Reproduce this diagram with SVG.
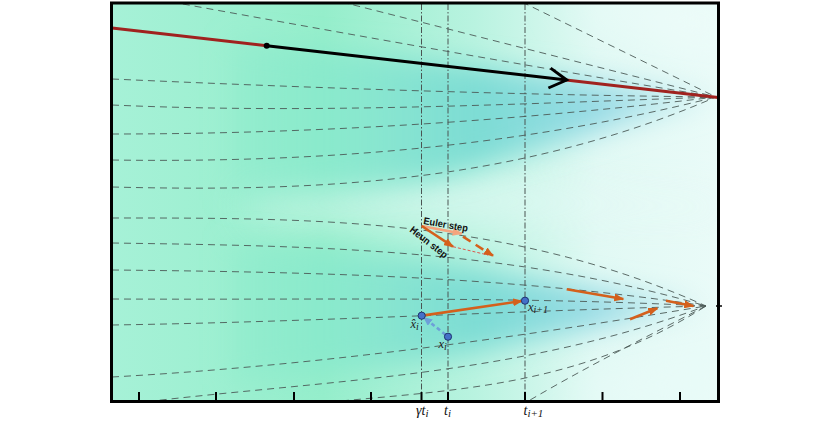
<svg xmlns="http://www.w3.org/2000/svg" width="830" height="424" viewBox="0 0 830 424">
<defs>
<style>
.dash{fill:none;stroke:#4c5b58;stroke-width:1;stroke-dasharray:7 5;opacity:.9}
.vline{stroke:#4a5452;stroke-width:1;stroke-dasharray:6 2 1.5 2}
.tick{stroke:#000;stroke-width:2}
.lbl{font-family:"Liberation Serif","DejaVu Serif",serif;font-style:italic;font-size:14px;fill:#111}
.plbl{font-family:"Liberation Serif","DejaVu Serif",serif;font-style:italic;font-size:12.5px;fill:#222}
.pt{fill:#4470c8;stroke:#1f3470;stroke-width:1}
.step{font-family:"Liberation Sans",Arial,sans-serif;font-weight:bold;font-size:10px;fill:#111}
</style>
<clipPath id="frame"><rect x="111.5" y="3" width="607" height="398.5"/></clipPath>
<filter id="soft" x="-50%" y="-50%" width="200%" height="200%"><feGaussianBlur stdDeviation="22"/></filter>
<filter id="soft2" x="-50%" y="-50%" width="200%" height="200%"><feGaussianBlur stdDeviation="14"/></filter>
<linearGradient id="gBase" x1="112" x2="718" y1="0" y2="0" gradientUnits="userSpaceOnUse">
<stop offset="0" stop-color="#a6f1d7"/>
<stop offset="0.35" stop-color="#95eecb"/>
<stop offset="0.6" stop-color="#b9f3e0"/>
<stop offset="0.8" stop-color="#e1f9f4"/>
<stop offset="1" stop-color="#eafbf8"/>
</linearGradient>
<linearGradient id="gBand" x1="112" x2="716" y1="0" y2="0" gradientUnits="userSpaceOnUse">
<stop offset="0" stop-color="#8eeccb" stop-opacity="0"/>
<stop offset="0.35" stop-color="#85e8cc" stop-opacity="0.7"/>
<stop offset="0.6" stop-color="#7cdcd4" stop-opacity="1"/>
<stop offset="0.8" stop-color="#93d9e4" stop-opacity="0.95"/>
<stop offset="1" stop-color="#c4ecf0" stop-opacity="0.8"/>
</linearGradient>
<marker id="ahO" markerUnits="userSpaceOnUse" markerWidth="10" markerHeight="8" refX="9" refY="4" orient="auto"><path d="M0,0 L10,4 L0,8 Z" fill="#d4601c"/></marker>
<marker id="ahP" markerUnits="userSpaceOnUse" markerWidth="10" markerHeight="8" refX="9" refY="4" orient="auto"><path d="M0,0 L10,4 L0,8 Z" fill="#f4a47e"/></marker>
<marker id="ahB" markerUnits="userSpaceOnUse" markerWidth="9" markerHeight="8" refX="8" refY="4" orient="auto"><path d="M0,0 L9,4 L0,8 Z" fill="#6d9fd8"/></marker>
</defs>

<g id="background" clip-path="url(#frame)">
<rect x="111" y="3" width="608" height="399" fill="url(#gBase)"/>
<polygon points="250,195 470,175 620,195 730,200 730,215 620,215 470,225 250,215" fill="#e6faf6" filter="url(#soft)" opacity="0.7"/>
<polygon points="230,40 430,60 716,97 430,180 230,200" fill="url(#gBand)" filter="url(#soft2)"/>
<polygon points="230,240 430,262 706,306 430,360 230,385" fill="url(#gBand)" filter="url(#soft2)"/>
<polygon points="560,0 730,0 730,60" fill="#edfcf9" filter="url(#soft)"/>
<polygon points="600,380 730,330 730,410 560,410" fill="#e8fbf8" filter="url(#soft)"/>
</g>

<g id="trajectories" clip-path="url(#frame)">
<path class="dash" d="M330,-1 L716,97"/>
<path class="dash" d="M522,2 L716,97"/>
<path class="dash" d="M112,-9 C313,28 515,64 716,97"/>
<path class="dash" d="M112,79 C313,88 515,95 716,97"/>
<path class="dash" d="M112,105 C313,114 515,104 716,97"/>
<path class="dash" d="M112,134 C313,134 515,121 716,97"/>
<path class="dash" d="M112,160 C313,163 515,148 716,97"/>
<path class="dash" d="M112,187 C313,192 515,184 716,97"/>
<path class="dash" d="M112,218 C310,218 508,217 706,306"/>
<path class="dash" d="M112,243 C310,246 508,248 706,306"/>
<path class="dash" d="M112,270 C310,272 508,276 706,306"/>
<path class="dash" d="M112,299 C310,300 508,296 706,306"/>
<path class="dash" d="M112,325 C310,322 508,311 706,306"/>
<path class="dash" d="M112,377 C310,366 508,339 706,306"/>
<path class="dash" d="M112,406 C310,380 508,380 706,306"/>
<path class="dash" d="M330,402 C455,390 581,386 706,306"/>
<path class="dash" d="M520,406 C580,370 650,335 706,306"/>
</g>

<g id="time-lines">
<line class="vline" x1="421.5" y1="4" x2="421.5" y2="400"/>
<line class="vline" x1="448" y1="4" x2="448" y2="400"/>
<line class="vline" x1="525" y1="4" x2="525" y2="400"/>
</g>

<g id="ode-path">
<line x1="112" y1="28" x2="266.7" y2="45.7" stroke="#a0221f" stroke-width="3"/>
<line x1="566" y1="80" x2="718" y2="97.5" stroke="#a0221f" stroke-width="3"/>
<line x1="266.7" y1="45.7" x2="566.7" y2="80" stroke="#000" stroke-width="3"/>
<polyline points="550.6,68.1 566.7,80 548.4,88" fill="none" stroke="#000" stroke-width="3" stroke-linejoin="miter"/>
<circle cx="266.7" cy="45.7" r="3" fill="#000"/>
</g>

<g id="connectors">
<line x1="421.7" y1="226" x2="461.7" y2="233.6" stroke="#f4a47e" stroke-width="2.6" marker-end="url(#ahP)"/>
<line x1="463" y1="236.7" x2="493" y2="255.7" stroke="#d4601c" stroke-width="2.6" stroke-dasharray="9 6" marker-end="url(#ahO)"/>
<line x1="421.7" y1="226" x2="453" y2="246.7" stroke="#d4601c" stroke-width="2.6" marker-end="url(#ahO)"/>
<line x1="453" y1="246.7" x2="488" y2="255" stroke="#e0453a" stroke-width="0.9" stroke-dasharray="3 2"/>
<line x1="424" y1="315.4" x2="522" y2="301" stroke="#d4601c" stroke-width="2.6" marker-end="url(#ahO)"/>
<line x1="445.5" y1="334.7" x2="424" y2="317.6" stroke="#6d9fd8" stroke-width="2.6" stroke-dasharray="4 3" marker-end="url(#ahB)"/>
<line x1="566.7" y1="289.3" x2="623.3" y2="299" stroke="#d4601c" stroke-width="2.6" marker-end="url(#ahO)"/>
<line x1="630" y1="319.3" x2="657.3" y2="308.3" stroke="#d4601c" stroke-width="2.6" marker-end="url(#ahO)"/>
<line x1="666" y1="300.7" x2="693.3" y2="306" stroke="#d4601c" stroke-width="2.6" marker-end="url(#ahO)"/>
</g>

<g id="step-labels">
<text class="step" x="423" y="224" transform="rotate(10 423 224)" textLength="45" lengthAdjust="spacingAndGlyphs">Euler step</text>
<text class="step" x="409" y="231" transform="rotate(38 409 231)" textLength="45" lengthAdjust="spacingAndGlyphs">Heun step</text>
</g>

<g id="node-xhat"><circle class="pt" cx="421.7" cy="315.7" r="3.6"/><text class="plbl" x="410.5" y="327.5">x̂<tspan font-size="10" dy="2">i</tspan></text></g>
<g id="node-x"><circle class="pt" cx="448" cy="336.7" r="3.6"/><text class="plbl" x="438.5" y="347.5">x<tspan font-size="10" dy="2">i</tspan></text></g>
<g id="node-xnext"><circle class="pt" cx="525" cy="300.7" r="3.6"/><text class="plbl" x="528" y="310.5">x<tspan font-size="10" dy="2">i+1</tspan></text></g>

<g id="frame-axis">
<rect x="111.5" y="3" width="607" height="398.5" fill="none" stroke="#000" stroke-width="3"/>
<line class="tick" x1="139" y1="392" x2="139" y2="401"/>
<line class="tick" x1="216" y1="392" x2="216" y2="401"/>
<line class="tick" x1="294" y1="392" x2="294" y2="401"/>
<line class="tick" x1="371" y1="392" x2="371" y2="401"/>
<line class="tick" x1="421.5" y1="392" x2="421.5" y2="401"/>
<line class="tick" x1="448" y1="392" x2="448" y2="401"/>
<line class="tick" x1="525" y1="392" x2="525" y2="401"/>
<line class="tick" x1="602.5" y1="392" x2="602.5" y2="401"/>
<line class="tick" x1="680" y1="392" x2="680" y2="401"/>
<line x1="716" y1="306" x2="722" y2="306" stroke="#000" stroke-width="1.5"/>
</g>

<g id="axis-labels">
<text class="lbl" x="416" y="415">γt<tspan font-size="11" dy="2">i</tspan></text>
<text class="lbl" x="444" y="415">t<tspan font-size="11" dy="2">i</tspan></text>
<text class="lbl" x="523.5" y="415">t<tspan font-size="11" dy="2">i+1</tspan></text>
</g>
</svg>
